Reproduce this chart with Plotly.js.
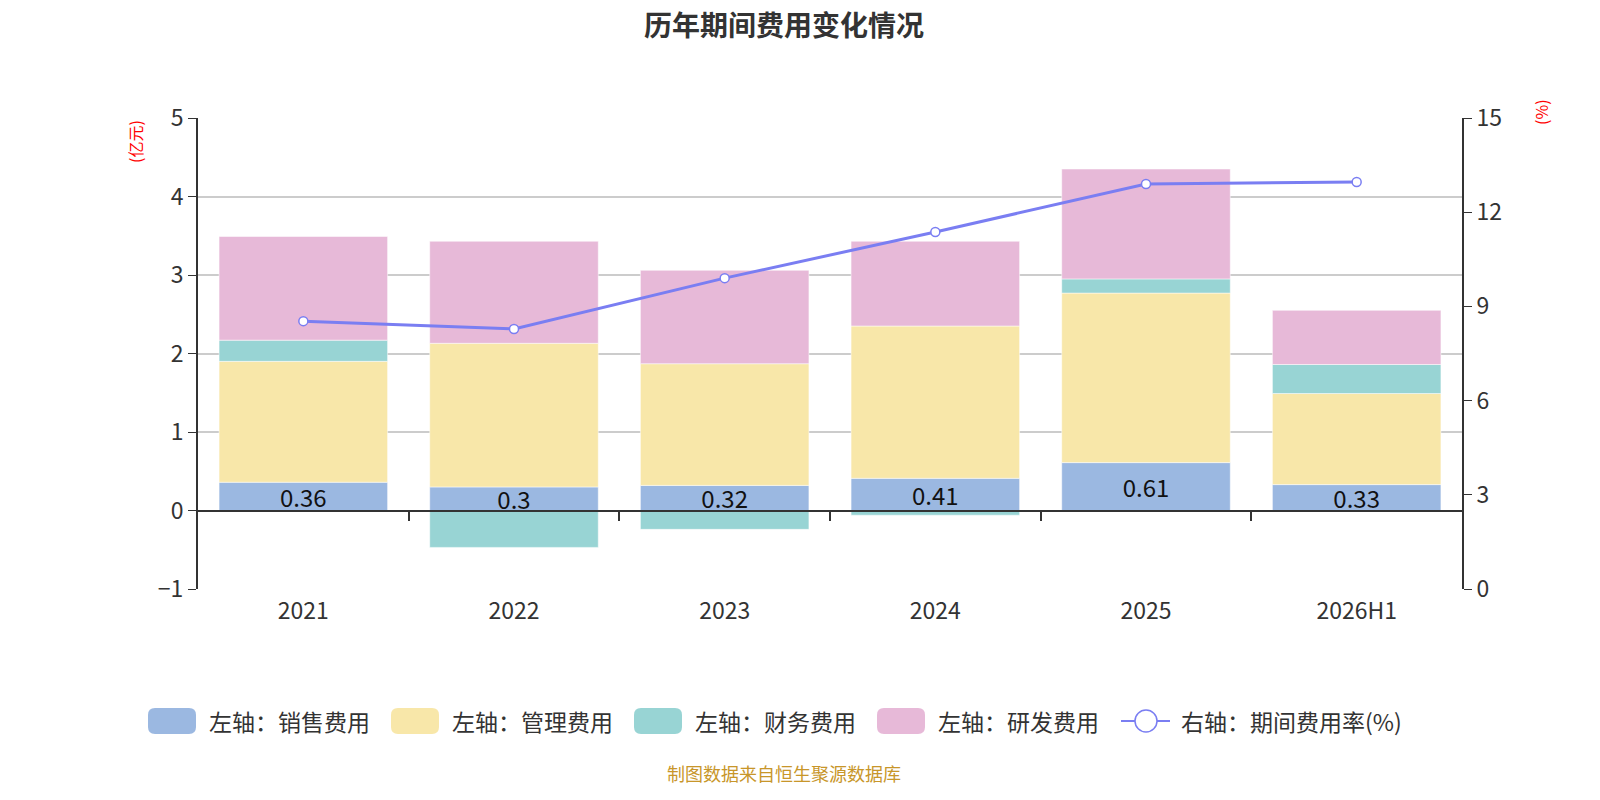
<!DOCTYPE html>
<html>
<head>
<meta charset="utf-8">
<script src="https://cdn.plot.ly/plotly-3.0.1.min.js"></script>
<style>
  html, body { margin: 0; padding: 0; background: #fff; overflow: hidden; }
  #chart { width: 1600px; height: 800px; overflow: hidden; }
</style>
</head>
<body>
<div id="chart"></div>
<script>
// values (亿元, %)
var years = ["2021", "2022", "2023", "2024", "2025", "2026H1"];
var sales = [0.36, 0.30, 0.32, 0.41, 0.61, 0.33];
var admin = [1.54, 1.83, 1.55, 1.94, 2.16, 1.16];
var finance = [0.27, -0.47, -0.24, -0.06, 0.18, 0.37];
var rnd = [1.32, 1.30, 1.19, 1.08, 1.40, 0.69];
var expenseRate = [8.53, 8.28, 9.90, 11.37, 12.90, 12.96];

var seriesNames = ["左轴：销售费用", "左轴：管理费用", "左轴：财务费用", "左轴：研发费用", "右轴：期间费用率(%)"];
var colors = ["#9bb8e1", "#f8e7a9", "#98d4d4", "#e7b9d8", "#7a7ef2"];

var fontFamily = "'Noto Sans CJK SC', 'Noto Sans', sans-serif";
var W = 1600, H = 800;
var M = { l: 198, r: 138, t: 118, b: 211 };
var plotW = W - M.l - M.r, plotH = H - M.t - M.b;

// pixel -> paper helpers, used only for the hand-built legend
function px(x) { return (x - M.l) / plotW; }
function py(y) { return (H - M.b - y) / plotH; }

function roundRect(x0, y0, x1, y1, r) {
  var rx = r / plotW, ry = r / plotH;
  var a = px(x0), b = px(x1), top = py(y0), bot = py(y1);
  return "M" + (a + rx) + "," + top +
    " L" + (b - rx) + "," + top +
    " Q" + b + "," + top + " " + b + "," + (top - ry) +
    " L" + b + "," + (bot + ry) +
    " Q" + b + "," + bot + " " + (b - rx) + "," + bot +
    " L" + (a + rx) + "," + bot +
    " Q" + a + "," + bot + " " + a + "," + (bot + ry) +
    " L" + a + "," + (top - ry) +
    " Q" + a + "," + top + " " + (a + rx) + "," + top + " Z";
}

var barLine = { color: "rgba(255,255,255,0.5)", width: 1 };

function barTrace(i, values) {
  return {
    type: "bar",
    name: seriesNames[i],
    x: years,
    y: values,
    marker: { color: colors[i], line: barLine },
    hoverinfo: "y"
  };
}

var salesTrace = barTrace(0, sales);
salesTrace.text = sales.map(function (v) { return String(v); });
salesTrace.textposition = "inside";
salesTrace.insidetextanchor = "middle";
salesTrace.textangle = 0;
salesTrace.constraintext = "none";
salesTrace.insidetextfont = { size: 24, color: "#111", family: fontFamily };

var traces = [
  salesTrace,
  barTrace(1, admin),
  barTrace(2, finance),
  barTrace(3, rnd),
  {
    type: "scatter",
    mode: "lines+markers",
    name: seriesNames[4],
    x: years,
    y: expenseRate,
    yaxis: "y2",
    line: { color: colors[4], width: 3 },
    marker: { size: 9, color: "#fff", line: { color: colors[4], width: 1.5 } }
  },
  // carrier for the zero-line tick axis
  { type: "scatter", x: [], y: [], xaxis: "x2", showlegend: false, hoverinfo: "skip" }
];

// hand-built legend (rounded swatches like the reference)
var legendY = 721;
var swatchX = [148, 391, 634, 877];
var textX = [207, 450, 693, 936, 1179];
var shapes = [];
var annotations = [];
swatchX.forEach(function (x, i) {
  shapes.push({
    type: "path", xref: "paper", yref: "paper",
    path: roundRect(x, legendY - 13, x + 48, legendY + 13, 7),
    fillcolor: colors[i], line: { width: 0 }
  });
});
shapes.push({
  type: "line", xref: "paper", yref: "paper",
  x0: px(1121), x1: px(1170), y0: py(legendY), y1: py(legendY),
  line: { color: colors[4], width: 2 }
});
shapes.push({
  type: "circle", xref: "paper", yref: "paper",
  x0: px(1135), x1: px(1157), y0: py(legendY - 11), y1: py(legendY + 11),
  fillcolor: "#fff", line: { color: colors[4], width: 1.5 }
});
textX.forEach(function (x, i) {
  annotations.push({
    text: seriesNames[i], xref: "paper", yref: "paper",
    x: px(x), y: py(legendY), xanchor: "left", yanchor: "middle",
    showarrow: false, font: { size: 23, color: "#333" }
  });
});

annotations.push(
  {
    text: "(亿元)",
    xref: "paper", yref: "paper",
    x: px(135), y: py(142),
    xanchor: "center", yanchor: "middle",
    textangle: -90,
    showarrow: false,
    font: { size: 16, color: "#ff0000" }
  },
  {
    text: "(%)",
    xref: "paper", yref: "paper",
    x: px(1541), y: py(112),
    xanchor: "center", yanchor: "middle",
    textangle: -90,
    showarrow: false,
    font: { size: 16, color: "#ff0000" }
  },
  {
    text: "制图数据来自恒生聚源数据库",
    xref: "paper", yref: "paper",
    x: 0.5 * (px(669) + px(898)), y: py(773),
    xanchor: "center", yanchor: "middle",
    showarrow: false,
    font: { size: 18, color: "#c8962a" }
  },
  {
    text: "<b>历年期间费用变化情况</b>",
    xref: "paper", yref: "paper",
    x: 0.5 * (px(638) + px(930)), y: py(24),
    xanchor: "center", yanchor: "middle",
    showarrow: false,
    font: { size: 28, color: "#333" }
  }
);

var layout = {
  width: W,
  height: H,
  paper_bgcolor: "#fff",
  plot_bgcolor: "#fff",
  font: { family: fontFamily, color: "#333", size: 20 },
  margin: M,
  barmode: "relative",
  bargap: 0.2,
  showlegend: false,
  xaxis: {
    type: "category",
    showline: false,
    showgrid: false,
    zeroline: false,
    ticks: "",
    ticklabelstandoff: 6,
    tickfont: { size: 23, color: "#333" }
  },
  xaxis2: {
    overlaying: "x",
    anchor: "free",
    position: 1 / 6,
    type: "linear",
    range: [-0.5, 5.5],
    tickvals: [0.5, 1.5, 2.5, 3.5, 4.5],
    ticks: "outside",
    ticklen: 9,
    tickwidth: 1.5,
    tickcolor: "#333",
    showticklabels: false,
    showline: true,
    linecolor: "#333",
    linewidth: 2,
    showgrid: false,
    zeroline: false
  },
  yaxis: {
    range: [-1, 5],
    dtick: 1,
    showline: true,
    linecolor: "#333",
    linewidth: 2,
    ticks: "outside",
    ticklen: 8,
    tickcolor: "#333",
    showgrid: true,
    gridcolor: "#cccccc",
    gridwidth: 1.5,
    zeroline: false,
    tickfont: { size: 23, color: "#333" }
  },
  yaxis2: {
    overlaying: "y",
    side: "right",
    range: [0, 15],
    dtick: 3,
    showline: true,
    linecolor: "#333",
    linewidth: 2,
    ticks: "outside",
    ticklen: 8,
    tickcolor: "#333",
    showgrid: false,
    zeroline: false,
    tickfont: { size: 23, color: "#333" }
  },
  shapes: shapes,
  annotations: annotations
};

Plotly.newPlot("chart", traces, layout, { displayModeBar: false, responsive: false });
</script>
</body>
</html>
